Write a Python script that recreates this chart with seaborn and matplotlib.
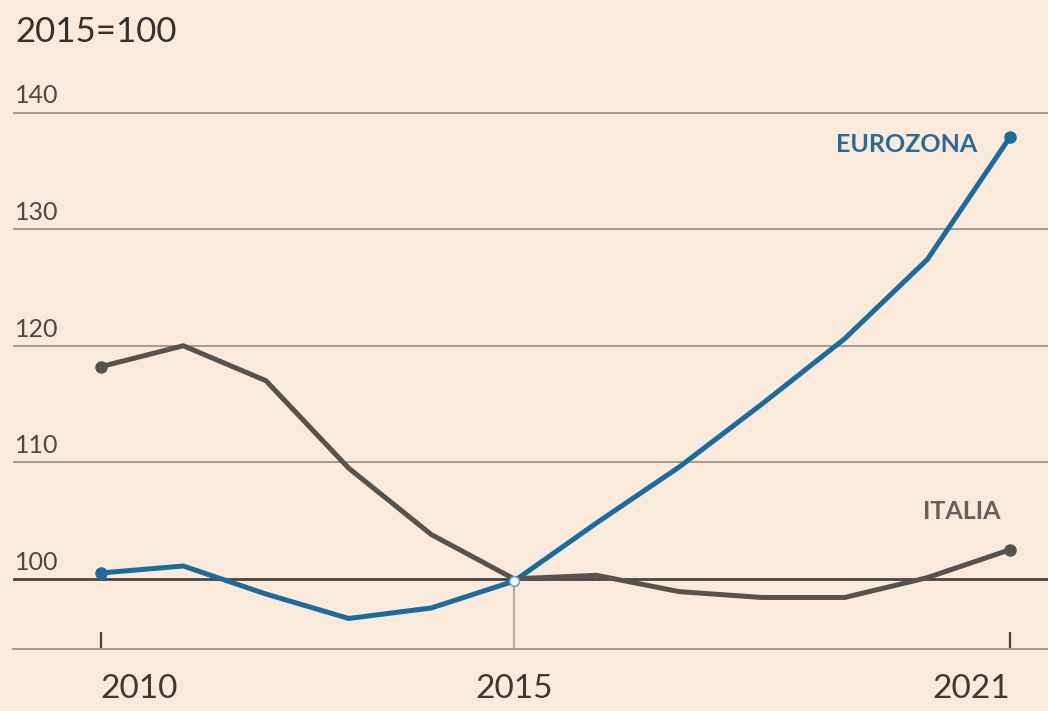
import numpy as np
import pandas as pd
import matplotlib
matplotlib.use("Agg")
import matplotlib.pyplot as plt
import seaborn as sns

# dati (2015=100)
years = [2010, 2011, 2012, 2013, 2014, 2015, 2016, 2017, 2018, 2019, 2020, 2021]
eurozona = [100.5, 101.1, 98.7, 96.6, 97.5, 99.8, 104.8, 109.6, 115.0, 120.6, 127.4, 137.9]
italia = [118.2, 120.0, 117.0, 109.5, 103.8, 100.0, 100.3, 98.9, 98.4, 98.4, 100.1, 102.5]
series_names = ["EUROZONA", "ITALIA"]
yticks = [100, 110, 120, 130, 140]
xticks = [2010, 2015, 2021]
title = "2015=100"

bg = "#FAEADC"
blue = "#1E6A9B"
grey = "#56534F"
palette = {"EUROZONA": blue, "ITALIA": grey}

df = pd.DataFrame({
    "anno": years * 2,
    "valore": eurozona + italia,
    "serie": [series_names[0]] * len(years) + [series_names[1]] * len(years),
})

sns.set_style("white", {"axes.facecolor": bg, "figure.facecolor": bg})
plt.rcParams["font.family"] = ["Lato", "DejaVu Sans"]

fig = plt.figure(figsize=(10.48, 7.11), dpi=100)
ax = fig.add_axes([13 / 1048, 62 / 711, 1 - 13 / 1048, 548 / 711])

# griglia orizzontale
for v in yticks:
    if v == 100:
        ax.axhline(v, color="#4A4440", lw=2.0, zorder=1)
    else:
        ax.axhline(v, color="#A39A91", lw=1.4, zorder=1)
    ax.text(0.002, v + 0.45, str(v), transform=ax.get_yaxis_transform(),
            ha="left", va="bottom", fontsize=18, color="#4D4843")

# linea verticale al 2015
ax.plot([2015, 2015], [93.9, 100], color="#B3ABA3", lw=1.5, zorder=1)

sns.lineplot(data=df, x="anno", y="valore", hue="serie", palette=palette,
             linewidth=3.6, legend=False, ax=ax, zorder=3)

# marcatori iniziali e finali
for name, vals in zip(series_names, [eurozona, italia]):
    ax.plot([years[0], years[-1]], [vals[0], vals[-1]], "o",
            color=palette[name], markersize=8, zorder=4)
ax.plot(2015, eurozona[years.index(2015)], "o", mfc="#F4FAFF", mec="#5FA8D8",
        mew=1.2, markersize=7, zorder=5)

# etichette delle serie
ax.text(2020.6, 137.3, series_names[0], color="#2A6A98", fontsize=18,
        fontweight="bold", ha="right", va="center")
ax.text(2020.88, 105.8, series_names[1], color="#65605B", fontsize=18,
        fontweight="bold", ha="right", va="center")

ax.set_xlim(2008.94, 2021.46)
ax.set_ylim(93.98, 141.0)
ax.set_yticks([])
ax.set_xticks(xticks)
ax.set_xticklabels([str(x) for x in xticks], fontsize=24, color="#3D3935")
for lab, ha in zip(ax.get_xticklabels(), ["left", "center", "right"]):
    lab.set_horizontalalignment(ha)
ax.tick_params(axis="x", bottom=True, length=12, width=1.6, color="#4A4440",
               direction="in", pad=18)
ax.xaxis.get_major_ticks()[1].tick1line.set_visible(False)
ax.set_xlabel("")
ax.set_ylabel("")
for s in ["top", "left", "right"]:
    ax.spines[s].set_visible(False)
ax.spines["bottom"].set_color("#A39A91")
ax.spines["bottom"].set_linewidth(1.4)

fig.text(15 / 1048, 1 - 32 / 711, title, fontsize=25, color="#33302E",
         ha="left", va="center")

fig.savefig("out.png", dpi=100, facecolor=bg)
